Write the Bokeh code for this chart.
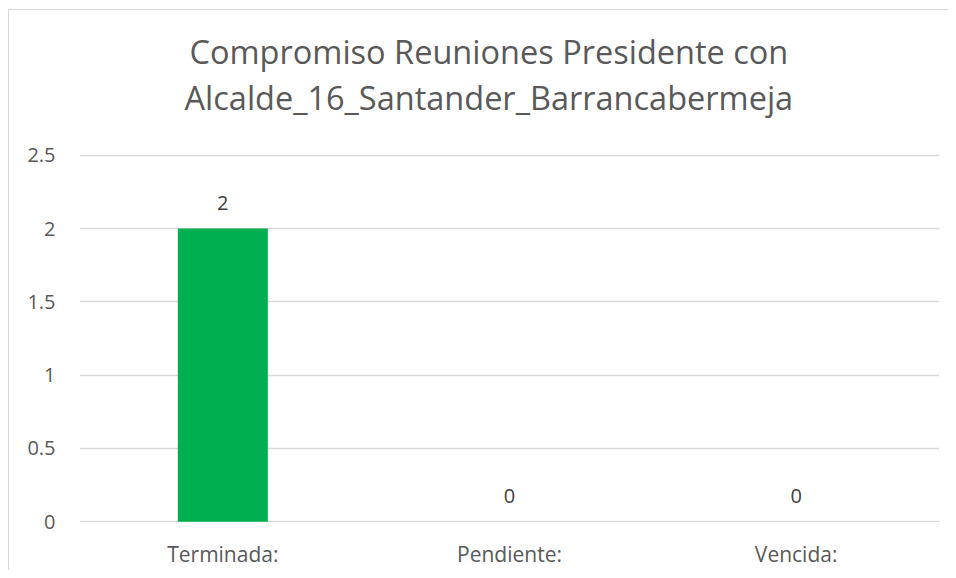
from bokeh.plotting import figure
from bokeh.models import ColumnDataSource, Title, LabelSet, SingleIntervalTicker
from bokeh.core.properties import value
from bokeh.embed import file_html
from bokeh.resources import INLINE

categories = ["Terminada:", "Pendiente:", "Vencida:"]
values = [2, 0, 0]
labels = ["2", "0", "0"]
title_line1 = "Compromiso Reuniones Presidente con"
title_line2 = "Alcalde_16_Santander_Barrancabermeja"

FONT = "Open Sans"

src = ColumnDataSource(dict(cat=categories, val=values, lab=labels))

p = figure(x_range=categories, y_range=(-0.005, 2.505), width=948, height=570,
           output_backend="svg", toolbar_location=None,
           min_border_left=79, min_border_right=9, min_border_bottom=48,
           min_border_top=154)
p.title = None
p.outline_line_color = None
p.background_fill_color = None
p.border_fill_color = None
p.styles = {
    "background": ("linear-gradient(#d9d9d9,#d9d9d9) 8px 9px / 940px 1px no-repeat, "
                   "linear-gradient(#d9d9d9,#d9d9d9) 8px 9px / 1px 561px no-repeat, #ffffff"),
}

p.vbar(x="cat", top="val", width=0.314, source=src, fill_color="#00b050", line_color=None)

ls = LabelSet(x="cat", y="val", text="lab", source=src, y_offset=19,
              text_align="center", text_baseline="bottom",
              text_font=value(FONT), text_font_size=value("20px"), text_color="#404040")
p.add_layout(ls)

t2 = Title(text=title_line2, align="left", text_font=FONT, text_font_size="32.5px",
           text_color="#595959", text_font_style="normal", standoff=69, offset=105)
t1 = Title(text=title_line1, align="left", text_font=FONT, text_font_size="32.5px",
           text_color="#595959", text_font_style="normal", standoff=-71, offset=110)
p.add_layout(t2, "above")
p.add_layout(t1, "above")

p.yaxis.ticker = SingleIntervalTicker(interval=0.5)
p.yaxis.axis_line_color = None
p.yaxis.major_tick_line_color = None
p.yaxis.minor_tick_line_color = None
p.yaxis.major_label_standoff = 18
p.yaxis.major_label_text_font = FONT
p.yaxis.major_label_text_font_size = "20px"
p.yaxis.major_label_text_color = "#595959"

p.xaxis.axis_line_color = None
p.xaxis.major_tick_line_color = None
p.xaxis.major_label_standoff = 11
p.xaxis.major_label_text_font = FONT
p.xaxis.major_label_text_font_size = "21px"
p.xaxis.major_label_text_color = "#595959"

p.xgrid.grid_line_color = None
p.ygrid.grid_line_color = "#d9d9d9"
p.ygrid.grid_line_width = 1.5

p.x_range.range_padding = 0

open("out.html", "w").write(file_html(p, INLINE))
